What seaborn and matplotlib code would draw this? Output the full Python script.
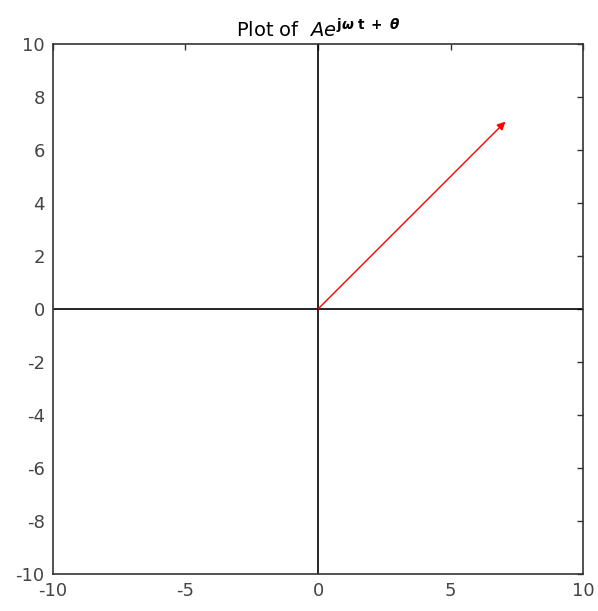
import matplotlib
matplotlib.use("Agg")
import matplotlib.pyplot as plt
import seaborn as sns
import numpy as np

# data
amplitude = 10.0
theta_deg = 45.0
x_limits = [-10, 10]
y_limits = [-10, 10]
x_ticks = [-10, -5, 0, 5, 10]
y_ticks = [-10, -8, -6, -4, -2, 0, 2, 4, 6, 8, 10]

tip_x = amplitude * np.cos(np.radians(theta_deg))
tip_y = amplitude * np.sin(np.radians(theta_deg))

sns.set_style("white")
plt.rcParams['font.family'] = ['DejaVu Sans']
plt.rcParams['axes.unicode_minus'] = False

fig = plt.figure(figsize=(5.98, 6.11), dpi=100)
ax = fig.add_axes([0.0886, 0.0606, 0.8864, 0.8674])

# coordinate axes
ax.axhline(0, color="black", lw=1.2)
ax.axvline(0, color="black", lw=1.2)

# phasor
ax.annotate("", xy=(tip_x, tip_y), xytext=(0, 0),
            arrowprops=dict(arrowstyle="-|>", color="red", lw=1.0,
                            mutation_scale=12, shrinkA=0, shrinkB=0))

ax.set_xlim(x_limits)
ax.set_ylim(y_limits)
ax.set_xticks(x_ticks)
ax.set_yticks(y_ticks)
ax.tick_params(direction="in", length=4, width=1, top=True, right=True,
               labelsize=13, labelcolor="#444444", color="#333333", pad=6)
for s in ax.spines.values():
    s.set_color("#333333")
    s.set_linewidth(1.2)

ax.set_title(r"Plot of  $Ae^{\mathbf{j}\boldsymbol{\omega}\ \mathbf{t\ +\ }\boldsymbol{\theta}}$",
             fontsize=14, color="black", pad=5)

fig.savefig("out.png", dpi=100)
